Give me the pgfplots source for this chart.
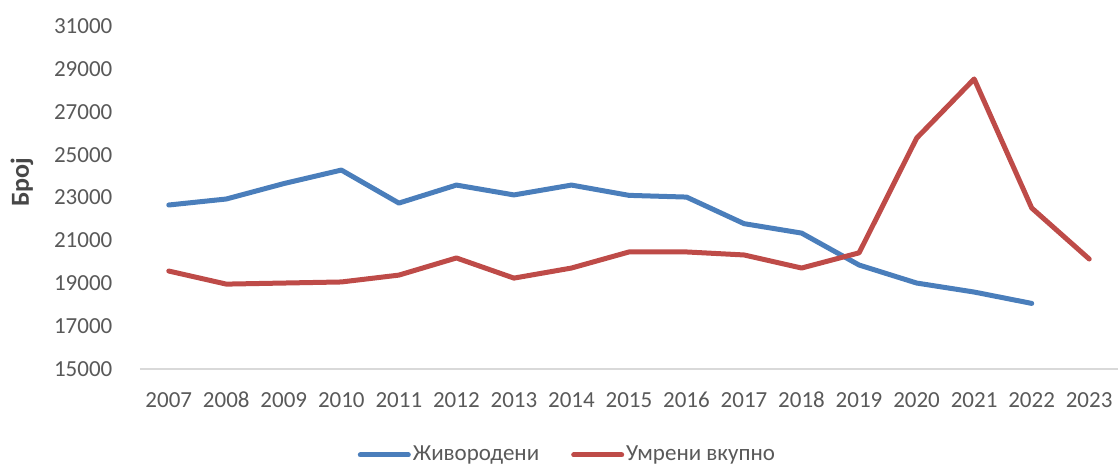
\documentclass[border=0pt]{standalone}
\usepackage{fontspec}
\setmainfont{Carlito}
\usepackage{pgfplots}
\pgfplotsset{compat=1.18}
\definecolor{cblue}{HTML}{4A7EBB}
\definecolor{cred}{HTML}{BE4B48}
\definecolor{ctxt}{HTML}{595959}
\definecolor{caxis}{HTML}{D9D9D9}
\begin{document}
\begin{tikzpicture}
\path[use as bounding box] (-70pt,-49pt) rectangle (489pt,184.5pt);
\begin{axis}[
  at={(0,0)}, anchor=south west,
  scale only axis, width=489pt, height=171.5pt,
  xmin=2006.5, xmax=2023.5, ymin=15000, ymax=31000,
  axis x line=bottom, axis y line=left,
  axis line style={-},
  x axis line style={draw=caxis, line width=0.6pt},
  y axis line style={draw=none},
  xtick={2007,...,2023}, ytick={15000,17000,...,31000},
  scaled ticks=false,
  tick style={draw=none},
  /pgf/number format/assume math mode=true,
  xticklabel={\pgfmathprintnumber[1000 sep={}]{\tick}},
  yticklabel={\pgfmathprintnumber[1000 sep={}]{\tick}},
  tick label style={font=\fontsize{11.5}{13}\selectfont, text=ctxt, inner sep=0pt},
  xticklabel style={text height=7.5pt, text depth=0pt, anchor=north},
  yticklabel shift=11.5pt,
  xticklabel shift=9.5pt,
  ylabel={Број},
  ylabel style={at={(axis description cs:-0.1207,0.545)}, anchor=center, font=\fontsize{13}{15}\selectfont\bfseries, text=ctxt!80!black},
  legend columns=2,
  legend style={at={(axis description cs:0.437,-0.2507)}, anchor=center, draw=none, fill=none,
    font=\fontsize{11.5}{13}\selectfont, text=ctxt,
    nodes={inner sep=1pt},
    /tikz/every even column/.append style={column sep=15pt}},
  legend image code/.code={\draw[#1, line width=2.5pt, line cap=round] (0pt,0pt) -- (24pt,0pt);},
]
\addplot[cblue, line width=2.5pt, line join=round, line cap=round] coordinates {
(2007,22650) (2008,22930) (2009,23650) (2010,24280) (2011,22740) (2012,23580)
(2013,23120) (2014,23580) (2015,23100) (2016,23020) (2017,21780) (2018,21340)
(2019,19850) (2020,19010) (2021,18590) (2022,18060)};
\addlegendentry{Живородени}
\addplot[cred, line width=2.5pt, line join=round, line cap=round] coordinates {
(2007,19570) (2008,18960) (2009,19010) (2010,19060) (2011,19380) (2012,20180)
(2013,19240) (2014,19710) (2015,20460) (2016,20460) (2017,20320) (2018,19710)
(2019,20420) (2020,25770) (2021,28530) (2022,22510) (2023,20130)};
\addlegendentry{Умрени вкупно}
\end{axis}
\end{tikzpicture}
\end{document}
